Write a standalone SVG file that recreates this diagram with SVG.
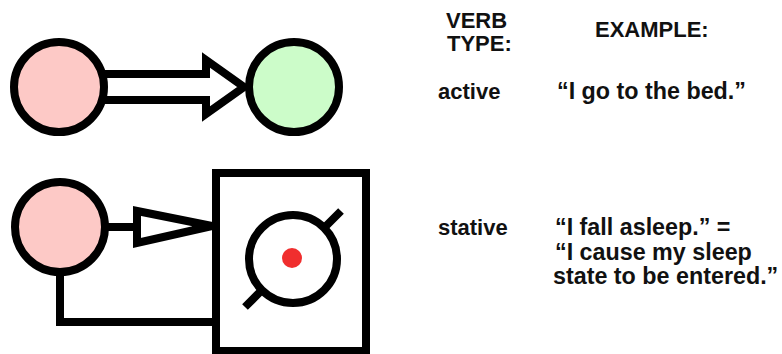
<svg xmlns="http://www.w3.org/2000/svg" width="782" height="354" viewBox="0 0 782 354">
  <style>
    .ln { fill: none; stroke: #000; stroke-width: 8; stroke-linejoin: miter; stroke-linecap: butt; }
    .pink { fill: #fdc9c6; stroke: #000; stroke-width: 8; }
    .green { fill: #ccfcc9; stroke: #000; stroke-width: 8; }
    .hollow { fill: #fff; stroke: #000; stroke-width: 8; }
    .t { font-family: "Liberation Sans", Arial, sans-serif; font-weight: bold; font-size: 22px; fill: #111; }
    .q { font-size: 23.3px; }
  </style>
  <rect width="782" height="354" fill="#fff"/>
  <g id="connectors">
    <path class="hollow" d="M105,74 H206 V60 L244,87 L206,114 V100 H105"/>
    <path class="ln" d="M104,227 H138"/>
    <polygon class="hollow" points="137,211 137,243 212,226"/>
    <path class="ln" d="M60,275 V322 H216"/>
  </g>
  <g id="active-agent"><circle class="pink" cx="59" cy="87" r="45"/></g>
  <g id="active-target"><circle class="green" cx="294" cy="87" r="45"/></g>
  <g id="stative-agent"><circle class="pink" cx="60" cy="227" r="45"/></g>
  <g id="state-box">
    <rect class="hollow" x="216" y="173" width="150" height="178"/>
    <circle class="hollow" cx="293" cy="259" r="44" stroke-width="7"/>
    <path class="ln" stroke-width="7" d="M325,227 L341,211 M261,291 L245,307"/>
    <circle cx="292" cy="258" r="10" fill="#f02e2e"/>
  </g>
  <g id="labels">
    <text class="t" x="446" y="28">VERB</text>
    <text class="t" x="447" y="51">TYPE:</text>
    <text class="t" x="595" y="37">EXAMPLE:</text>
    <text class="t" x="438" y="99">active</text>
    <text class="t q" x="557" y="99">“I go to the bed.”</text>
    <text class="t" x="438" y="235">stative</text>
    <text class="t q" x="555" y="235">“I fall asleep.” =</text>
    <text class="t q" x="555" y="260">“I cause my sleep</text>
    <text class="t q" x="553" y="284">state to be entered.”</text>
  </g>
</svg>
